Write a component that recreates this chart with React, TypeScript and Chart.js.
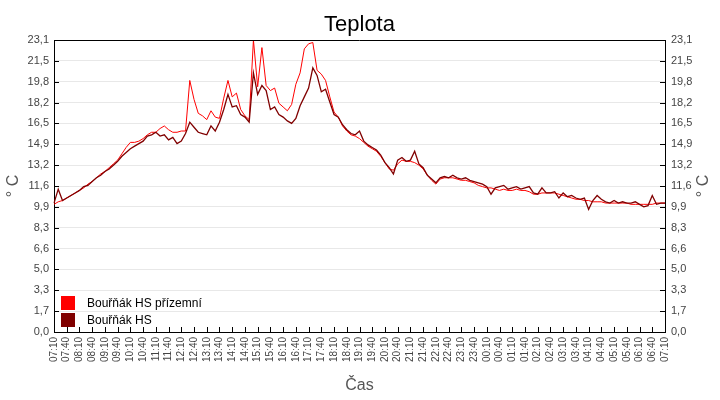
import { useEffect, useRef } from 'react';
import { Chart, registerables } from 'chart.js';

Chart.register(...registerables);

// 10-minute readings, 07:10 -> 07:10 next day
const START = 7 * 60 + 10;
const STEP = 10;

const groundTemp = [
  10.1, 10.3, 10.4, 10.6, 10.8, 11.0, 11.2, 11.4, 11.7, 11.9, 12.2, 12.5,
  12.7, 13.0, 13.3, 13.6, 14.1, 14.6, 15.0, 15.0, 15.1, 15.3, 15.6, 15.8,
  15.8, 16.1, 16.3, 16.0, 15.8, 15.8, 15.9, 15.9, 19.9, 18.4, 17.3, 17.1,
  16.8, 17.5, 17.0, 16.9, 18.5, 19.9, 18.6, 18.9, 17.6, 17.1, 16.8, 23.1,
  19.4, 22.5, 19.5, 19.1, 19.3, 18.1, 17.8, 17.5, 18.0, 19.6, 20.5, 22.4,
  22.8, 22.9, 20.7, 20.4, 19.9, 18.6, 17.4, 17.0, 16.3, 15.9, 15.6, 15.5,
  15.3, 15.0, 14.7, 14.5, 14.3, 13.9, 13.4, 12.9, 12.8, 13.3, 13.6, 13.5,
  13.5, 13.4, 13.2, 12.9, 12.4, 12.0, 11.7, 12.1, 12.2, 12.2, 12.2, 12.1,
  12.0, 12.0, 11.9, 11.8, 11.6, 11.5, 11.4, 11.4, 11.3, 11.2, 11.3, 11.2,
  11.2, 11.3, 11.2, 11.2, 11.1, 10.9, 10.9, 11.0, 11.0, 11.0, 11.0, 10.9,
  10.8, 10.7, 10.6, 10.5, 10.5, 10.4, 10.4, 10.3, 10.3, 10.3, 10.2, 10.2,
  10.2, 10.2, 10.2, 10.2, 10.1, 10.1, 10.1, 10.1, 10.1, 10.1, 10.2, 10.2,
  10.2,
];

const hsTemp = [
  10.2, 11.3, 10.4, 10.6, 10.8, 11.0, 11.2, 11.5, 11.6, 11.9, 12.2, 12.4,
  12.7, 12.9, 13.2, 13.5, 13.9, 14.2, 14.5, 14.7, 14.9, 15.1, 15.5, 15.6,
  15.8, 15.5, 15.6, 15.2, 15.4, 14.9, 15.1, 15.7, 16.6, 16.2, 15.8, 15.7,
  15.6, 16.3, 15.9, 16.6, 17.6, 18.8, 17.8, 17.9, 17.2, 17.0, 16.6, 20.5,
  18.8, 19.5, 19.1, 17.6, 17.8, 17.2, 17.0, 16.7, 16.5, 16.9, 17.9, 18.6,
  19.3, 20.9, 20.3, 19.0, 19.2, 18.2, 17.2, 17.0, 16.4, 16.0, 15.7, 15.6,
  15.9, 15.1, 14.8, 14.6, 14.4, 14.0, 13.4, 13.0, 12.5, 13.6, 13.8, 13.5,
  13.6, 14.3, 13.3, 13.0, 12.4, 12.1, 11.8, 12.2, 12.3, 12.2, 12.4, 12.2,
  12.1, 12.2, 12.0, 11.9, 11.8, 11.7, 11.5, 10.9, 11.4, 11.5, 11.6, 11.3,
  11.4, 11.5, 11.3, 11.4, 11.5, 11.0, 10.9, 11.4, 11.0, 11.0, 11.1, 10.6,
  11.0, 10.7, 10.8, 10.6, 10.5, 10.6, 9.7, 10.4, 10.8, 10.5, 10.3, 10.2,
  10.4, 10.2, 10.3, 10.2, 10.2, 10.3, 10.1, 9.9, 10.0, 10.8, 10.1, 10.2,
  10.2,
];

const yTickLabels = [
  '0,0', '1,7', '3,3', '5,0', '6,6', '8,3', '9,9', '11,6',
  '13,2', '14,9', '16,5', '18,2', '19,8', '21,5', '23,1',
];
const Y_MAX = 23.1;

const pad = (n: number) => String(n).padStart(2, '0');
const timeLabels = hsTemp.map((_, i) => {
  const m = (START + i * STEP) % (24 * 60);
  return `${pad(Math.floor(m / 60))}:${pad(m % 60)}`;
});

const FONT = '"Liberation Sans", Arial, sans-serif';

const decor = {
  id: 'decor',
  afterDraw(chart: any) {
    const { ctx, chartArea } = chart;
    const { left, right, top, bottom } = chartArea;
    const x = chart.scales.x;
    const y = chart.scales.y;
    ctx.save();

    // top frame line
    ctx.strokeStyle = '#000';
    ctx.lineWidth = 1;
    ctx.beginPath();
    ctx.moveTo(left, Math.round(top) + 0.5);
    ctx.lineTo(right, Math.round(top) + 0.5);

    // tick marks pointing inwards
    y.ticks.forEach((t: any) => {
      const py = Math.round(y.getPixelForValue(t.value)) + 0.5;
      ctx.moveTo(left, py);
      ctx.lineTo(left + 5, py);
      ctx.moveTo(right - 5, py);
      ctx.lineTo(right, py);
    });
    timeLabels.forEach((_, i) => {
      if (i % 3 !== 0) return;
      const px = Math.round(x.getPixelForValue(i)) + 0.5;
      ctx.moveTo(px, bottom - 5);
      ctx.lineTo(px, bottom);
    });
    ctx.stroke();

    // title
    ctx.fillStyle = '#000';
    ctx.font = `22px ${FONT}`;
    ctx.textAlign = 'center';
    ctx.textBaseline = 'alphabetic';
    ctx.fillText('Teplota', (left + right) / 2, 31);

    // axis titles
    ctx.fillStyle = '#555';
    ctx.font = `16px ${FONT}`;
    ctx.fillText('Čas', (left + right) / 2, 390);
    ctx.textBaseline = 'middle';
    [14, 704].forEach((cx) => {
      ctx.save();
      ctx.translate(cx, (top + bottom) / 2);
      ctx.rotate(-Math.PI / 2);
      ctx.fillText('° C', 0, 0);
      ctx.restore();
    });

    // legend inside plot, bottom-left
    ctx.font = `12px ${FONT}`;
    ctx.textAlign = 'left';
    chart.data.datasets.forEach((ds: any, i: number) => {
      const by = 296 + i * 17;
      ctx.fillStyle = ds.borderColor;
      ctx.fillRect(61, by, 14, 14);
      ctx.fillStyle = '#000';
      ctx.fillText(ds.label, 87, by + 7.5);
    });
    ctx.restore();
  },
};

export default function App() {
  const canvasRef = useRef<HTMLCanvasElement>(null);

  useEffect(() => {
    if (!canvasRef.current) return;

    const yTicks = (scale: any) => {
      scale.ticks = yTickLabels.map((_, i) => ({ value: (i * Y_MAX) / 14 }));
    };

    const chart = new Chart(canvasRef.current, {
      type: 'line',
      data: {
        labels: timeLabels,
        datasets: [
          {
            label: 'Bouřňák HS přízemní',
            data: groundTemp,
            borderColor: '#ff0000',
            backgroundColor: '#ff0000',
            borderWidth: 1,
            pointRadius: 0,
            tension: 0,
            order: 1,
          },
          {
            label: 'Bouřňák HS',
            data: hsTemp,
            borderColor: '#800000',
            backgroundColor: '#800000',
            borderWidth: 1.3,
            pointRadius: 0,
            tension: 0,
            order: 0,
          },
        ],
      },
      options: {
        responsive: true,
        maintainAspectRatio: false,
        animation: false,
        layout: { padding: { top: 40, left: 0, right: 0, bottom: 0 } },
        plugins: {
          legend: { display: false },
          title: { display: false },
          tooltip: { enabled: false },
        },
        scales: {
          x: {
            type: 'category',
            grid: { display: false, drawTicks: false },
            border: { display: true, color: '#000', width: 1 },
            ticks: {
              autoSkip: false,
              minRotation: 90,
              maxRotation: 90,
              padding: 5,
              color: '#444',
              font: { family: FONT, size: 10 },
              callback: (_v: any, i: number) => (i % 3 === 0 ? timeLabels[i] : null),
            },
            afterFit: (s: any) => {
              s.height = 68;
            },
          },
          y: {
            position: 'left',
            min: 0,
            max: Y_MAX,
            afterBuildTicks: yTicks,
            grid: { color: '#e8e8e8', drawTicks: false },
            border: { display: true, color: '#000', width: 1 },
            ticks: {
              padding: 5,
              color: '#444',
              font: { family: FONT, size: 11 },
              callback: (_v: any, i: number) => yTickLabels[i],
            },
            afterFit: (s: any) => {
              s.width = 54;
            },
          },
          y2: {
            position: 'right',
            min: 0,
            max: Y_MAX,
            afterBuildTicks: yTicks,
            grid: { drawOnChartArea: false, drawTicks: false },
            border: { display: true, color: '#000', width: 1 },
            ticks: {
              padding: 6,
              color: '#444',
              font: { family: FONT, size: 11 },
              callback: (_v: any, i: number) => yTickLabels[i],
            },
            afterFit: (s: any) => {
              s.width = 55;
            },
          },
        },
      },
      plugins: [decor],
    });

    return () => {
      chart.destroy();
    };
  }, []);

  return (
    <div style={{ position: 'fixed', left: 0, top: 0, width: 720, height: 400, background: '#fff' }}>
      <canvas ref={canvasRef} />
    </div>
  );
}
